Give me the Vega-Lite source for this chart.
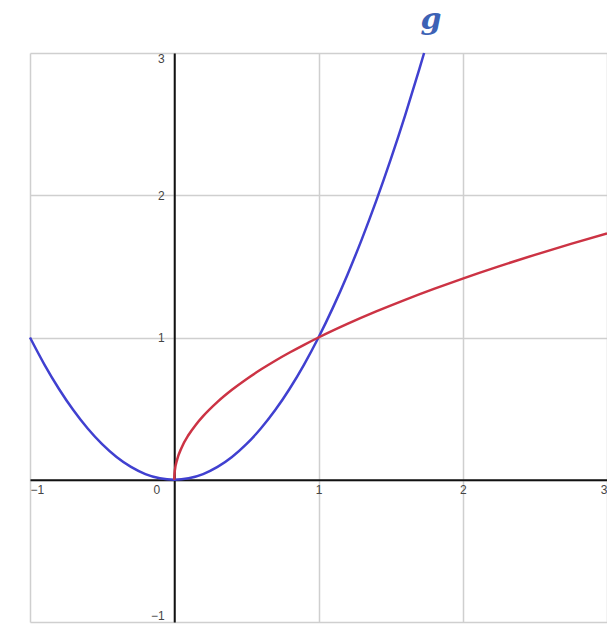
{
  "$schema": "https://vega.github.io/schema/vega-lite/v6.json",
  "width": 577,
  "height": 569,
  "autosize": {"type": "none"},
  "padding": {"left": 30, "top": 53, "right": 0, "bottom": 14},
  "background": "white",
  "config": {"view": {"stroke": null}},
  "datasets": {
    "curves": [
      {"fn": "g", "x": -1, "y": 1}, {"fn": "g", "x": -0.9, "y": 0.81}, {"fn": "g", "x": -0.8, "y": 0.64},
      {"fn": "g", "x": -0.7, "y": 0.49}, {"fn": "g", "x": -0.6, "y": 0.36}, {"fn": "g", "x": -0.5, "y": 0.25},
      {"fn": "g", "x": -0.4, "y": 0.16}, {"fn": "g", "x": -0.3, "y": 0.09}, {"fn": "g", "x": -0.2, "y": 0.04},
      {"fn": "g", "x": -0.1, "y": 0.01}, {"fn": "g", "x": 0, "y": 0}, {"fn": "g", "x": 0.1, "y": 0.01},
      {"fn": "g", "x": 0.2, "y": 0.04}, {"fn": "g", "x": 0.3, "y": 0.09}, {"fn": "g", "x": 0.4, "y": 0.16},
      {"fn": "g", "x": 0.5, "y": 0.25}, {"fn": "g", "x": 0.6, "y": 0.36}, {"fn": "g", "x": 0.7, "y": 0.49},
      {"fn": "g", "x": 0.8, "y": 0.64}, {"fn": "g", "x": 0.9, "y": 0.81}, {"fn": "g", "x": 1.0, "y": 1.0},
      {"fn": "g", "x": 1.1, "y": 1.21}, {"fn": "g", "x": 1.2, "y": 1.44}, {"fn": "g", "x": 1.3, "y": 1.69},
      {"fn": "g", "x": 1.4, "y": 1.96}, {"fn": "g", "x": 1.5, "y": 2.25}, {"fn": "g", "x": 1.6, "y": 2.56},
      {"fn": "g", "x": 1.7, "y": 2.89}, {"fn": "g", "x": 1.732, "y": 3.0},
      {"fn": "f", "x": 0, "y": 0}, {"fn": "f", "x": 0.001, "y": 0.0316}, {"fn": "f", "x": 0.005, "y": 0.0707},
      {"fn": "f", "x": 0.02, "y": 0.1414}, {"fn": "f", "x": 0.05, "y": 0.2236}, {"fn": "f", "x": 0.1, "y": 0.3162},
      {"fn": "f", "x": 0.15, "y": 0.3873}, {"fn": "f", "x": 0.2, "y": 0.4472}, {"fn": "f", "x": 0.3, "y": 0.5477},
      {"fn": "f", "x": 0.4, "y": 0.6325}, {"fn": "f", "x": 0.5, "y": 0.7071}, {"fn": "f", "x": 0.6, "y": 0.7746},
      {"fn": "f", "x": 0.7, "y": 0.8367}, {"fn": "f", "x": 0.8, "y": 0.8944}, {"fn": "f", "x": 0.9, "y": 0.9487},
      {"fn": "f", "x": 1.0, "y": 1.0}, {"fn": "f", "x": 1.2, "y": 1.0954}, {"fn": "f", "x": 1.4, "y": 1.1832},
      {"fn": "f", "x": 1.6, "y": 1.2649}, {"fn": "f", "x": 1.8, "y": 1.3416}, {"fn": "f", "x": 2.0, "y": 1.4142},
      {"fn": "f", "x": 2.25, "y": 1.5}, {"fn": "f", "x": 2.5, "y": 1.5811}, {"fn": "f", "x": 2.75, "y": 1.6583},
      {"fn": "f", "x": 3.0, "y": 1.7321}
    ],
    "labels": [{"x": 1.78, "y": 3.23, "text": "g"}]
  },
  "layer": [
    {
      "data": {"name": "curves"},
      "mark": {"type": "line", "strokeWidth": 2.5, "interpolate": "monotone"},
      "encoding": {
        "x": {
          "field": "x", "type": "quantitative",
          "scale": {"domain": [-1, 3], "nice": false, "zero": false},
          "axis": {
            "title": null, "orient": "bottom", "offset": -142.25,
            "values": [-1, 0, 1, 2, 3], "labelFlush": true, "format": "d",
            "domainColor": "#111", "domainWidth": 2, "ticks": false,
            "grid": true, "gridColor": "#cfcfcf", "gridWidth": 1.5,
            "labelFont": "Liberation Sans", "labelFontSize": 12, "labelColor": "#444",
            "labelPadding": 5,
            "labelOffset": {"condition": {"test": "datum.value === 0", "value": -18}, "value": 0}
          }
        },
        "y": {
          "field": "y", "type": "quantitative",
          "scale": {"domain": [-1, 3], "nice": false, "zero": false},
          "axis": {
            "title": null, "orient": "left", "offset": -144.25,
            "values": [-1, 0, 1, 2, 3], "labelFlush": true, "format": "d",
            "labelExpr": "datum.value === 0 ? '' : (datum.value < 0 ? '\u2212' + abs(datum.value) : datum.label)",
            "domainColor": "#111", "domainWidth": 2, "ticks": false,
            "grid": true, "gridColor": "#cfcfcf", "gridWidth": 1.5,
            "labelFont": "Liberation Sans", "labelFontSize": 12, "labelColor": "#444",
            "labelPadding": 10
          }
        },
        "color": {
          "field": "fn", "type": "nominal",
          "scale": {"domain": ["g", "f"], "range": ["#4040d0", "#cc3344"]},
          "legend": null
        },
        "order": {"field": "x", "type": "quantitative"}
      }
    },
    {
      "data": {"name": "labels"},
      "mark": {"type": "text", "font": "DejaVu Serif", "fontStyle": "italic", "fontSize": 30, "fontWeight": "bold", "color": "#3d62b5", "clip": false, "baseline": "middle", "align": "center"},
      "encoding": {
        "x": {"field": "x", "type": "quantitative"},
        "y": {"field": "y", "type": "quantitative"},
        "text": {"field": "text"}
      }
    }
  ]
}
